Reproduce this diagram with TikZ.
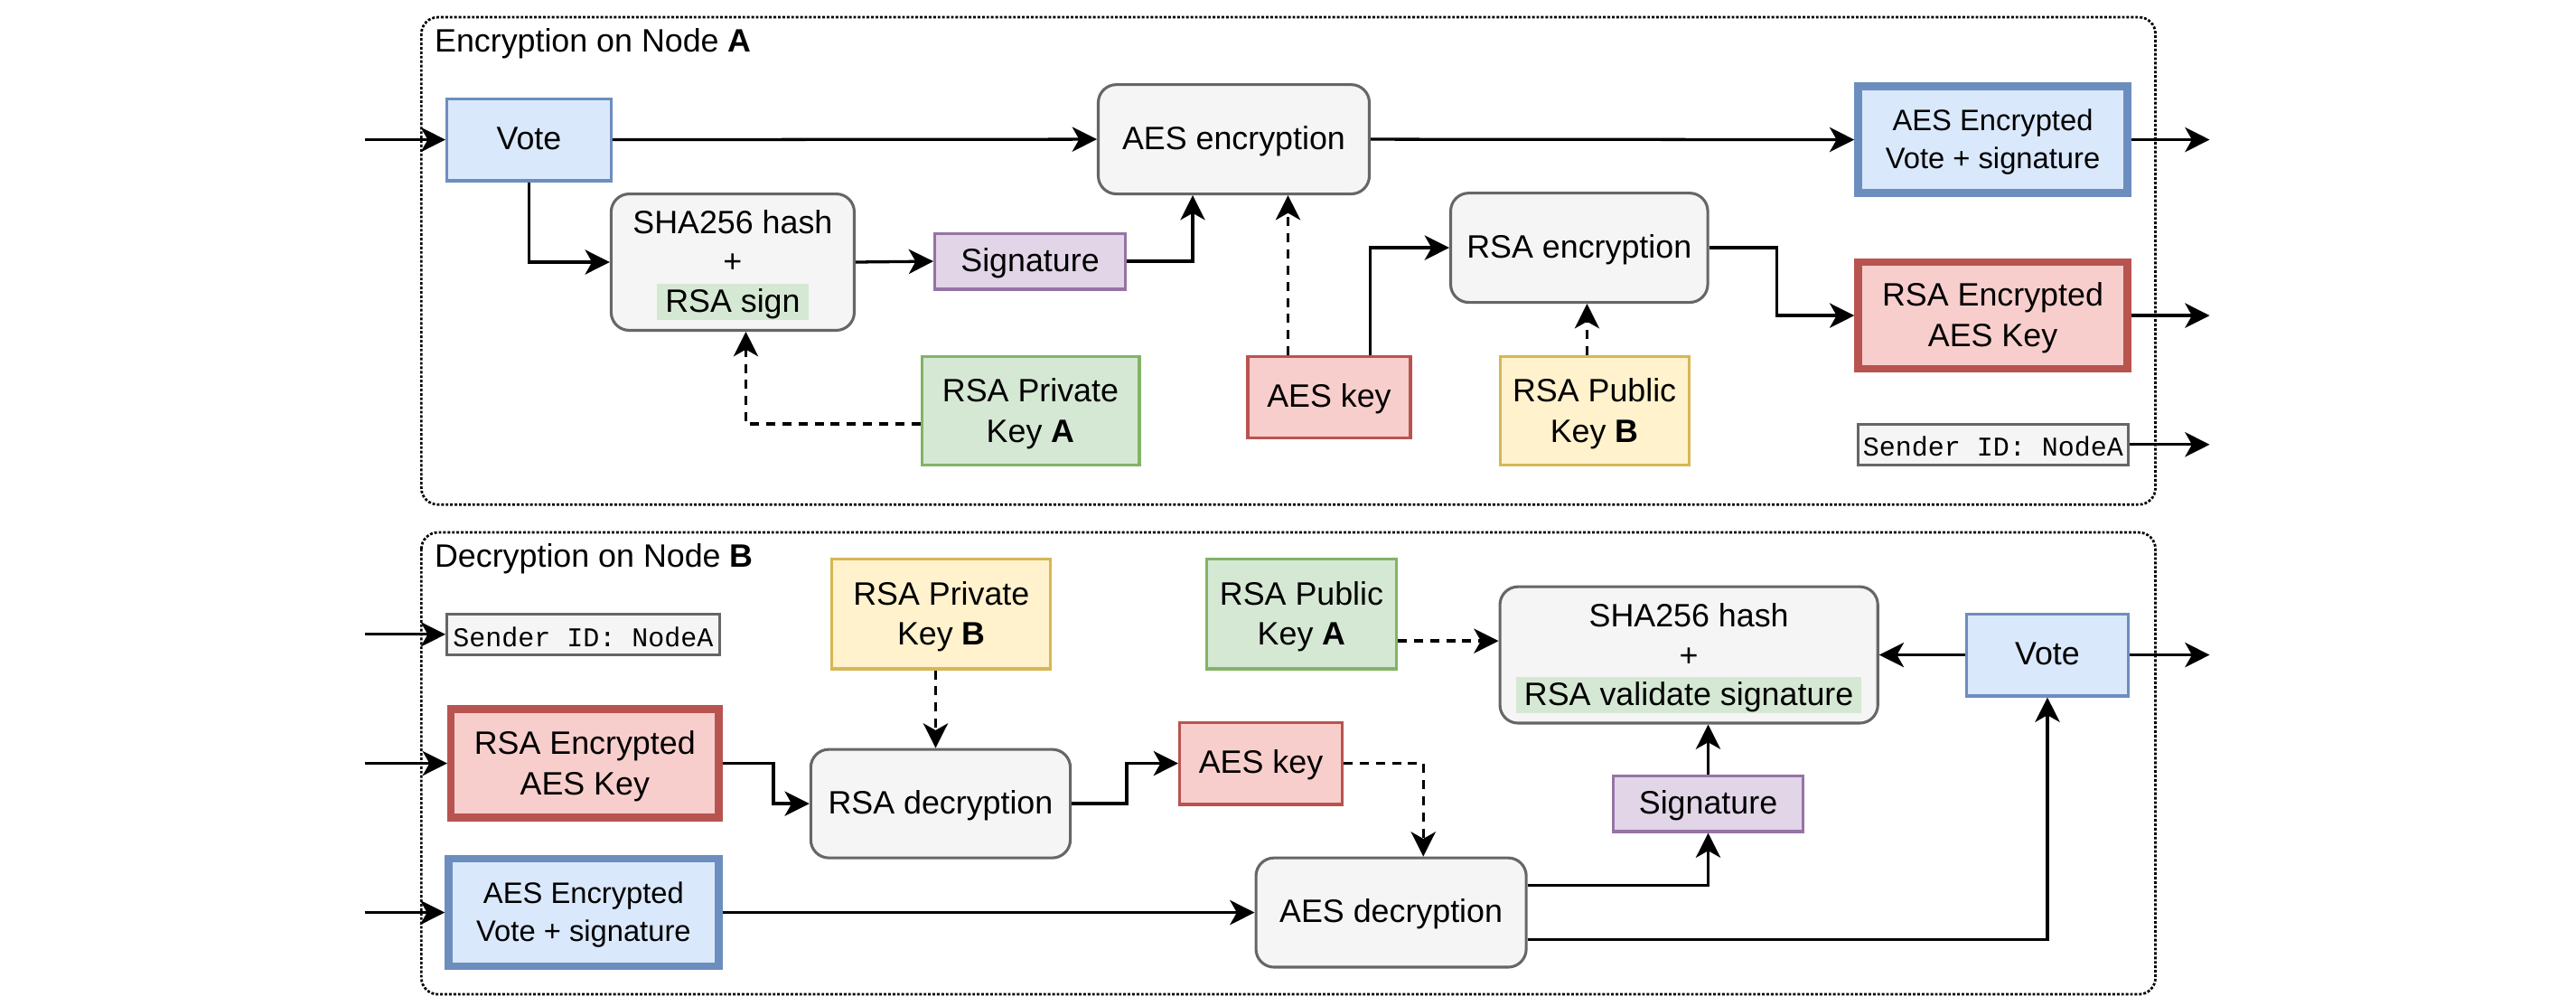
\documentclass[tikz,border=0pt]{standalone}
\usepackage{fontspec}
\setmainfont{Liberation Sans}
\newfontfamily\monofont{Liberation Mono}
\usetikzlibrary{arrows.meta,calc}
\definecolor{blF}{HTML}{DAE8FC}\definecolor{blS}{HTML}{6C8EBF}
\definecolor{grF}{HTML}{F5F5F5}\definecolor{grS}{HTML}{666666}
\definecolor{puF}{HTML}{E1D5E7}\definecolor{puS}{HTML}{9673A6}
\definecolor{gnF}{HTML}{D5E8D4}\definecolor{gnS}{HTML}{82B366}
\definecolor{rdF}{HTML}{F8CECC}\definecolor{rdS}{HTML}{B85450}
\definecolor{yeF}{HTML}{FFF2CC}\definecolor{yeS}{HTML}{D6B656}
\tikzset{
  box/.style={draw, line width=1.7pt, inner sep=0pt},
  bluebox/.style={box, fill=blF, draw=blS},
  greybox/.style={box, fill=grF, draw=grS},
  roundbox/.style={greybox, rounded corners=11pt},
  purplebox/.style={box, fill=puF, draw=puS},
  greenbox/.style={box, fill=gnF, draw=gnS},
  redbox/.style={box, fill=rdF, draw=rdS},
  yellowbox/.style={box, fill=yeF, draw=yeS},
  thickbox/.style={line width=4.6pt},
  lbl/.style={inner sep=0pt, anchor=base, font=\fontsize{19.7}{24}\selectfont},
  smalllbl/.style={inner sep=0pt, anchor=base, font=\fontsize{18}{22}\selectfont},
  monolbl/.style={inner sep=0pt, anchor=base, font=\monofont\fontsize{16.5}{20}\selectfont},
  hilite/.style={lbl, fill=gnF, inner xsep=5pt, inner ysep=0pt, text height=17.5pt, text depth=4.5pt},
  conn/.style={line width=1.8pt, -{Stealth[length=15pt, width=15pt, inset=4.2pt]}},
  dconn/.style={conn, dash pattern=on 5.5pt off 4.3pt},
  container/.style={draw, line width=1.5pt, dash pattern=on 1.6pt off 1.1pt, rounded corners=10pt},
}
\begin{document}
\begin{tikzpicture}[x=1pt, y=-1pt]
\useasboundingbox (0,0) rectangle (1568,612);
% containers
\draw[container] (256.5,10.5) rectangle (1312,307);
\draw[container] (256.5,324) rectangle (1312,605);
\node[lbl, anchor=base west] (titleA) at (264.4,31.5) {Encryption on Node \textbf{A}};
\node[lbl, anchor=base west] (titleB) at (264.4,345) {Decryption on Node \textbf{B}};

% ---------- top: encryption ----------
\node[bluebox, minimum width=100pt, minimum height=50pt] (vote1) at (322,85) {};
\node[lbl] (vote1t) at (322,91) {Vote};
\node[roundbox, minimum width=165pt, minimum height=66.5pt] (aesenc) at (751,84.75) {};
\node[lbl] (aesenct) at (751,90.8) {AES encryption};
\node[roundbox, minimum width=148pt, minimum height=83pt] (sha1) at (446,159.5) {};
\node[lbl] (sha1a) at (446,142) {SHA256 hash};
\node[lbl] (sha1b) at (446,166) {+};
\node[hilite] (sha1c) at (446,190) {RSA sign};
\node[purplebox, minimum width=116pt, minimum height=34pt] (sig1) at (627,159) {};
\node[lbl] (sig1t) at (627,165) {Signature};
\node[greenbox, minimum width=132.5pt, minimum height=66pt] (privA) at (627.25,250) {};
\node[lbl] (privAa) at (627.25,244.5) {RSA Private};
\node[lbl] (privAb) at (627.25,269) {Key \textbf{A}};
\node[redbox, minimum width=99pt, minimum height=49.5pt] (aeskey1) at (809,241.75) {};
\node[lbl] (aeskey1t) at (809,248) {AES key};
\node[roundbox, minimum width=156.5pt, minimum height=66.5pt] (rsaenc) at (961.25,150.75) {};
\node[lbl] (rsaenct) at (961.25,157) {RSA encryption};
\node[yellowbox, minimum width=115pt, minimum height=66pt] (pubB) at (970.5,250) {};
\node[lbl] (pubBa) at (970.5,244.5) {RSA Public};
\node[lbl] (pubBb) at (970.5,269) {Key \textbf{B}};
\node[bluebox, thickbox, minimum width=164pt, minimum height=65pt] (aesvote1) at (1213,85) {};
\node[smalllbl] (aesvote1a) at (1213,79.6) {AES Encrypted};
\node[smalllbl] (aesvote1b) at (1213,102.5) {Vote + signature};
\node[redbox, thickbox, minimum width=164pt, minimum height=65pt] (rsaaes1) at (1213,192) {};
\node[lbl] (rsaaes1a) at (1213,186.3) {RSA Encrypted};
\node[lbl] (rsaaes1b) at (1213,211) {AES Key};
\node[greybox, minimum width=164.5pt, minimum height=25pt] (sender1) at (1213.25,270.5) {};
\node[monolbl] (sender1t) at (1213.25,277.5) {Sender ID: NodeA};

\coordinate (inA) at (222,85);
\coordinate (outA1) at (1345,85);
\coordinate (outA2) at (1345,192);
\coordinate (outA3) at (1345,270.5);

\draw[conn] (inA) -- (vote1.west);
\draw[conn] (vote1.east) -- (aesenc.west);
\draw[conn] (vote1.south) |- (sha1.west);
\draw[conn] (sha1.east) -- (sig1.west);
\draw[conn] (sig1.east) -| ([xshift=-25pt]aesenc.south);
\draw[dconn] ([yshift=-8pt]privA.west) -| ([xshift=8pt]sha1.south);
\draw[dconn] ([xshift=-25pt]aeskey1.north) -- ([xshift=-25pt]aeskey1.north |- aesenc.south);
\draw[conn] ([xshift=25pt]aeskey1.north) |- (rsaenc.west);
\draw[dconn] ([xshift=-4.5pt]pubB.north) -- ([xshift=-4.5pt]pubB.north |- rsaenc.south);
\draw[conn] (rsaenc.east) -- ++(41,0) |- (rsaaes1.west);
\draw[conn] (aesenc.east) -- (aesvote1.west);
\draw[conn] (aesvote1.east) -- (outA1);
\draw[conn] (rsaaes1.east) -- (outA2);
\draw[conn] (sender1.east) -- (outA3);

% ---------- bottom: decryption ----------
\node[greybox, minimum width=166pt, minimum height=25pt] (sender2) at (355,386) {};
\node[monolbl] (sender2t) at (355,393.3) {Sender ID: NodeA};
\node[yellowbox, minimum width=133pt, minimum height=67pt] (privB) at (573,373.5) {};
\node[lbl] (privBa) at (573,368) {RSA Private};
\node[lbl] (privBb) at (573,392.5) {Key \textbf{B}};
\node[greenbox, minimum width=115.5pt, minimum height=67pt] (pubA) at (792.25,373.5) {};
\node[lbl] (pubAa) at (792.25,368) {RSA Public};
\node[lbl] (pubAb) at (792.25,392.5) {Key \textbf{A}};
\node[roundbox, minimum width=230pt, minimum height=83pt] (sha2) at (1028,398.5) {};
\node[lbl] (sha2a) at (1028,381.5) {SHA256 hash};
\node[lbl] (sha2b) at (1028,405.5) {+};
\node[hilite] (sha2c) at (1028,429.5) {RSA validate signature};
\node[bluebox, minimum width=98.5pt, minimum height=50pt] (vote2) at (1246.25,398.5) {};
\node[lbl] (vote2t) at (1246.25,404.5) {Vote};
\node[redbox, thickbox, minimum width=163pt, minimum height=66pt] (rsaaes2) at (356,464.5) {};
\node[lbl] (rsaaes2a) at (356,459) {RSA Encrypted};
\node[lbl] (rsaaes2b) at (356,483.5) {AES Key};
\node[roundbox, minimum width=158pt, minimum height=66pt] (rsadec) at (572.5,489) {};
\node[lbl] (rsadect) at (572.5,495) {RSA decryption};
\node[redbox, minimum width=99pt, minimum height=50pt] (aeskey2) at (767.5,464.5) {};
\node[lbl] (aeskey2t) at (767.5,470.5) {AES key};
\node[roundbox, minimum width=164.5pt, minimum height=66.5pt] (aesdec) at (846.75,555.25) {};
\node[lbl] (aesdect) at (846.75,561.3) {AES decryption};
\node[bluebox, thickbox, minimum width=164.5pt, minimum height=65.5pt] (aesvote2) at (355.25,555.25) {};
\node[smalllbl] (aesvote2a) at (355.25,549.8) {AES Encrypted};
\node[smalllbl] (aesvote2b) at (355.25,572.7) {Vote + signature};
\node[purplebox, minimum width=115.5pt, minimum height=33.7pt] (sig2) at (1039.75,489.15) {};
\node[lbl] (sig2t) at (1039.75,495.2) {Signature};

\coordinate (inB1) at (222,386);
\coordinate (inB2) at (222,464.5);
\coordinate (inB3) at (222,555.25);
\coordinate (outB) at (1345,398.5);

\draw[conn] (inB1) -- (sender2.west);
\draw[conn] (inB2) -- (rsaaes2.west);
\draw[conn] (inB3) -- (aesvote2.west);
\draw[conn] (rsaaes2.east) -- ++(31,0) |- (rsadec.west);
\draw[dconn] ([xshift=-3.5pt]privB.south) -- ([xshift=-3.5pt]privB.south |- rsadec.north);
\draw[conn] (rsadec.east) -- ++(33.5,0) |- (aeskey2.west);
\draw[dconn] (aeskey2.east) -| ([xshift=19.6pt]aesdec.north);
\draw[dconn] ([yshift=-16.5pt]pubA.east) -- ([yshift=-16.5pt]pubA.east -| sha2.west);
\draw[conn] (aesvote2.east) -- (aesdec.west);
\draw[conn] ([yshift=16.5pt]aesdec.east) -| (sig2.south);
\draw[conn] ([yshift=-16.5pt]aesdec.east) -| (vote2.south);
\draw[conn] (sig2.north) -- (sig2.north |- sha2.south);
\draw[conn] (vote2.west) -- (sha2.east);
\draw[conn] (vote2.east) -- (outB);
\end{tikzpicture}
\end{document}
